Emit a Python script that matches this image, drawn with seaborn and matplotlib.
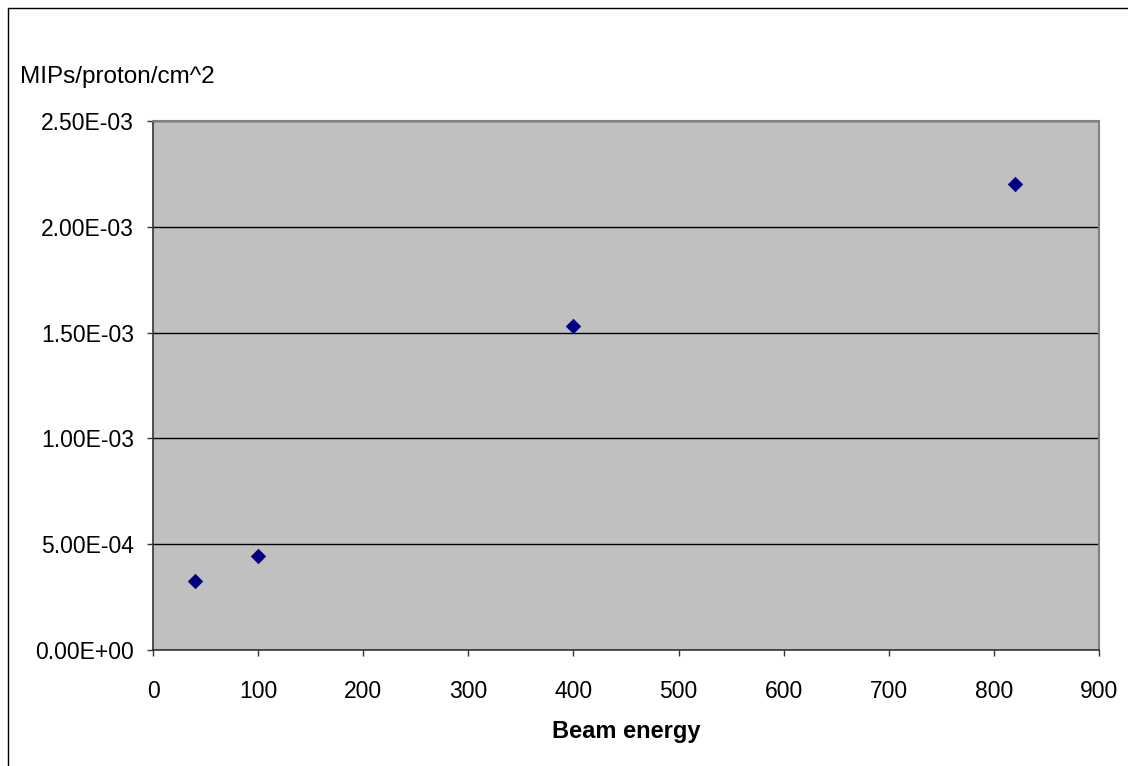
import numpy as np
import pandas as pd
import matplotlib
matplotlib.use("Agg")
import matplotlib.pyplot as plt
import seaborn as sns
from matplotlib.lines import Line2D
from matplotlib.ticker import FuncFormatter

# ── Données ──────────────────────────────────────────────────
beam_energy = [40, 100, 400, 820]
mips_per_proton = [3.25e-4, 4.45e-4, 1.53e-3, 2.20e-3]
x_ticks = [0, 100, 200, 300, 400, 500, 600, 700, 800, 900]
y_ticks = [0.0, 5e-4, 1e-3, 1.5e-3, 2e-3, 2.5e-3]

df = pd.DataFrame({"energy": beam_energy, "mips": mips_per_proton})

sns.set_style("white")
plt.rcParams["font.family"] = ["Liberation Sans", "DejaVu Sans"]
plt.rcParams["text.color"] = "black"

fig = plt.figure(figsize=(11.28, 7.66), dpi=100)
ax = fig.add_axes([153 / 1128, 1 - 650 / 766, (1099 - 153) / 1128, (650 - 121) / 766])
ax.set_facecolor("#C0C0C0")

sns.scatterplot(data=df, x="energy", y="mips", marker="D", s=62,
                color="#000080", linewidth=0, ax=ax, zorder=3)

ax.set_xlim(0, 900)
ax.set_ylim(0, 2.5e-3)
ax.set_xticks(x_ticks)
ax.set_yticks(y_ticks)
ax.yaxis.set_major_formatter(FuncFormatter(lambda v, p: f"{v:.2E}"))
ax.grid(axis="y", color="black", linewidth=1)
ax.set_axisbelow(True)

ax.tick_params(axis="both", direction="out", length=4.5, width=1,
               bottom=True, left=True, color="#333333",
               labelsize=16.5, labelcolor="black")
ax.tick_params(axis="y", pad=9)
ax.tick_params(axis="x", pad=17)

for side in ["left", "bottom"]:
    ax.spines[side].set_color("#333333")
    ax.spines[side].set_linewidth(1.2)
for side in ["top", "right"]:
    ax.spines[side].set_color("#808080")
    ax.spines[side].set_linewidth(1.5)

ax.set_xlabel("Beam energy", fontsize=17, fontweight="bold", labelpad=12.5,
              color="black")
ax.set_ylabel("")
fig.text(20 / 1128, 1 - 77 / 766, "MIPs/proton/cm^2", fontsize=17.5,
         ha="left", va="center", color="black")

# cadre extérieur (bord gauche et haut)
fig.add_artist(Line2D([8 / 1128, 8 / 1128], [0, 1 - 8 / 766], color="black", lw=1))
fig.add_artist(Line2D([8 / 1128, 1], [1 - 8 / 766, 1 - 8 / 766], color="black", lw=1))

fig.savefig("out.png", dpi=100)
plt.close(fig)
